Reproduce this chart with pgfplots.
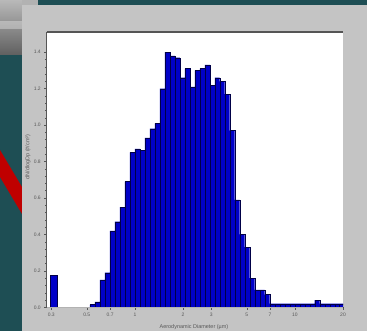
\documentclass[border=0pt]{standalone}
\usepackage{fontspec}
\setmainfont{Liberation Sans}
\usepackage{pgfplots}
\pgfplotsset{compat=1.18}
\definecolor{bgteal}{RGB}{30,78,84}
\definecolor{panelgray}{RGB}{196,196,196}
\definecolor{barblue}{RGB}{0,0,200}
\definecolor{baredge}{RGB}{0,0,70}
\definecolor{framegray}{RGB}{85,85,85}
\begin{document}
\begin{tikzpicture}[x=1bp,y=1bp]
\useasboundingbox (0,0) rectangle (367,331);
\fill[bgteal] (0,0) rectangle (367,331);
\shade[top color=gray!55, bottom color=gray!75!black] (0,276) rectangle (22,331);
\fill[gray!60] (22,326) rectangle (38,331);
\fill[white!85!gray, opacity=0.4] (0,302) rectangle (22,310);
\fill[red!75!black] (0,181) -- (22,144) -- (22,117) -- (0,154) -- cycle;
\fill[panelgray] (22,0) rectangle (367,326);
\begin{axis}[
  at={(46.7bp,23.7bp)}, anchor=south west,
  scale only axis, width=296.3bp, height=275.3bp,
  xmode=log, xmin=0.281, xmax=20, ymin=0, ymax=1.511,
  axis background/.style={fill=white},
  axis line style={draw=none},
  clip mode=individual,
  tick align=outside,
  major tick length=2.5bp, minor tick length=1.5bp,
  tick style={framegray, line width=0.4bp},
  xtick={0.3,0.5,0.7,1,2,3,5,7,10,20},
  xticklabels={0.3,0.5,0.7,1,2,3,5,7,10,20},
  ytick={0,0.2,0.4,0.6,0.8,1.0,1.2,1.4},
  yticklabels={0.0,0.2,0.4,0.6,0.8,1.0,1.2,1.4},
  minor y tick num=4,
  xtick pos=bottom, ytick pos=left,
  ticklabel style={font=\fontsize{5}{6}\selectfont, text=black!65},
  label style={font=\fontsize{5.5}{6.5}\selectfont, text=black!65},
  xlabel={Aerodynamic Diameter (µm)},
  ylabel={dN/dlogDp (\#/cm³)},
  xlabel style={at={(axis description cs:0.497,-0.0716)}, anchor=center},
  ylabel style={at={(axis description cs:-0.063,0.546)}, anchor=center},
]
\addplot[ybar interval, fill=barblue, draw=baredge, line width=0.3bp]
  coordinates {(0.295,0.177) (0.326,0.177)};
\addplot[ybar interval, fill=barblue, draw=baredge, line width=0.3bp]
  coordinates {
  (0.5230,0.015) (0.5620,0.03) (0.6039,0.15) (0.6489,0.19) (0.6973,0.42)
  (0.7493,0.47) (0.8052,0.55) (0.8652,0.69) (0.9297,0.85) (0.9991,0.87)
  (1.0736,0.86) (1.1536,0.93) (1.2396,0.98) (1.3320,1.01) (1.4313,1.20)
  (1.5381,1.40) (1.6528,1.38) (1.7760,1.37) (1.9084,1.26) (2.0507,1.31)
  (2.2036,1.21) (2.3679,1.30) (2.5444,1.31) (2.7341,1.33) (2.9380,1.22)
  (3.1570,1.26) (3.3924,1.24) (3.6453,1.17) (3.9171,0.97) (4.2092,0.59)
  (4.5230,0.40) (4.8602,0.33) (5.2226,0.16) (5.6120,0.095) (6.0304,0.095)
  (6.4800,0.07) (6.9631,0.02) (7.4823,0.02) (8.0401,0.02) (8.6396,0.02)
  (9.2837,0.02) (9.9759,0.02) (10.720,0.02) (11.519,0.02) (12.378,0.02)
  (13.301,0.04) (14.292,0.02) (15.358,0.02) (16.503,0.02) (17.733,0.02)
  (19.055,0.02) (20.476,0.02)};
\draw[framegray, line width=1.5bp] (rel axis cs:0,1) -- (rel axis cs:1,1);
\draw[framegray, line width=0.9bp] (rel axis cs:0,0) -- (rel axis cs:0,1);
\draw[gray!60, line width=0.5bp] (rel axis cs:0,0) -- (rel axis cs:1,0);
\end{axis}
\end{tikzpicture}
\end{document}
